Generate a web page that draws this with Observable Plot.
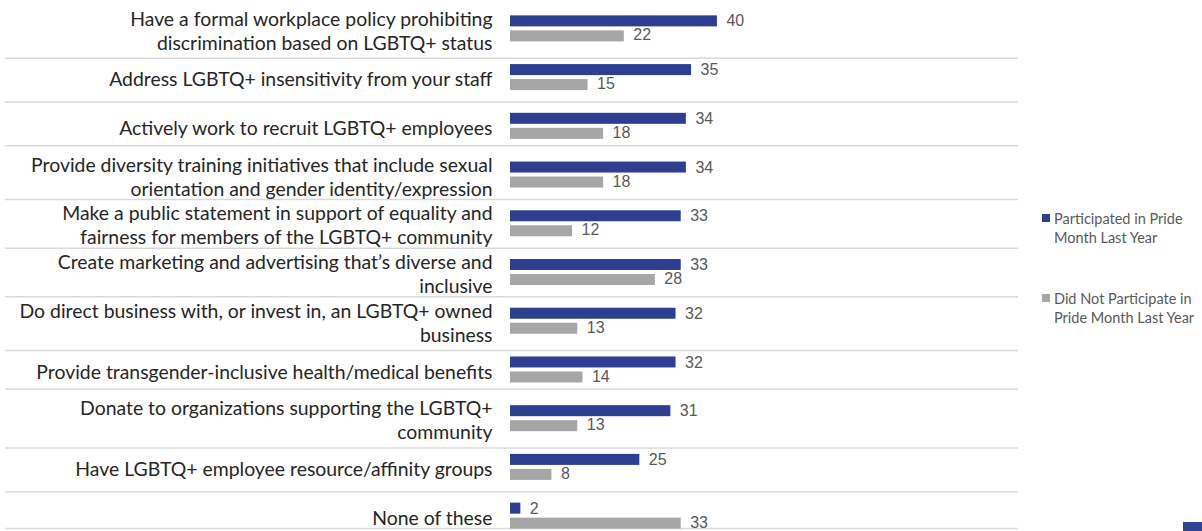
<!DOCTYPE html>
<html>
<head>
<meta charset="utf-8">
<script src="https://cdn.jsdelivr.net/npm/d3@7"></script>
<script src="https://cdn.jsdelivr.net/npm/@observablehq/plot@0.6"></script>
<style>
  html, body { margin: 0; padding: 0; background: #fff; overflow: hidden; }
  #wrap { position: relative; width: 1202px; height: 531px; overflow: hidden; }
  #chart { position: absolute; left: 0; top: 0; }
  .legend { position: absolute; left: 1042px; font-family: Lato, "Noto Sans", sans-serif; font-size: 14.5px; color: #595959; line-height: 19px; }
  .legend .item { position: relative; padding-left: 12px; }
  .legend .sw { position: absolute; left: 0; top: 5px; width: 8px; height: 8px; }
  #corner { position: absolute; left: 1183px; top: 522px; width: 19px; height: 9px; background: #2f4592; }
</style>
</head>
<body>
<div id="wrap">
  <div id="chart"></div>
  <div id="legend"></div>
  <div id="corner"></div>
</div>
<script>
// ---- data ----
const categories = [
  "Have a formal workplace policy prohibiting\ndiscrimination based on LGBTQ+ status",
  "Address LGBTQ+ insensitivity from your staff",
  "Actively work to recruit LGBTQ+ employees",
  "Provide diversity training initiatives that include sexual\norientation and gender identity/expression",
  "Make a public statement in support of equality and\nfairness for members of the LGBTQ+ community",
  "Create marketing and advertising that\u2019s diverse and\ninclusive",
  "Do direct business with, or invest in, an LGBTQ+ owned\nbusiness",
  "Provide transgender-inclusive health/medical benefits",
  "Donate to organizations supporting the LGBTQ+\ncommunity",
  "Have LGBTQ+ employee resource/affinity groups",
  "None of these"
];
const participated    = [40, 35, 34, 34, 33, 33, 32, 32, 31, 25, 2];
const notParticipated = [22, 15, 18, 18, 12, 28, 13, 14, 13, 8, 33];
const seriesNames = ["Participated in Pride\nMonth Last Year", "Did Not Participate in\nPride Month Last Year"];
const seriesColors = ["#2e3f92", "#a6a6a6"];

// ---- layout ----
const W = 1202, H = 540, mTop = 4, mBottom = 0, mLeft = 510, mRight = 184;
const step = (H - mTop - mBottom) / categories.length;
const barH = 11, pairOffset = 7.5;
const inset = (step - barH) / 2;

const rowsP = categories.map((c, i) => ({category: c, value: participated[i]}));
const rowsN = categories.map((c, i) => ({category: c, value: notParticipated[i]}));

// separators: shifted by difference in label line counts
const lines = categories.map(c => c.split("\n").length);
const sepAdj = categories.map((c, i) => i < categories.length - 1 ? 5 * (lines[i] - lines[i + 1]) : -12);
const adjGroups = d3.groups(categories.map((c, i) => ({c, adj: sepAdj[i]})), d => d.adj);

const sepMarks = adjGroups.map(([adj, items]) =>
  Plot.ruleY(items, {y: "c", dy: step / 2 + adj, insetLeft: -505, stroke: "#d9d9d9", strokeWidth: 1.5})
);

const valueFont = "'Liberation Sans', Arial, sans-serif";

const chart = Plot.plot({
  width: W,
  height: H,
  marginTop: mTop,
  marginBottom: mBottom,
  marginLeft: mLeft,
  marginRight: mRight,
  x: {domain: [0, 98.2], axis: null},
  y: {domain: categories, padding: 0, round: false, axis: null},
  style: {background: "transparent"},
  marks: [
    ...sepMarks,
    Plot.barX(rowsP, {x: "value", y: "category", fill: seriesColors[0], dy: -pairOffset, insetTop: inset, insetBottom: inset}),
    Plot.barX(rowsN, {x: "value", y: "category", fill: seriesColors[1], dy: pairOffset, insetTop: inset, insetBottom: inset}),
    Plot.text(rowsP, {x: "value", y: "category", text: d => String(d.value), dx: 9, dy: -pairOffset, textAnchor: "start", fill: "#595959", fontSize: 16, fontFamily: valueFont}),
    Plot.text(rowsN, {x: "value", y: "category", text: d => String(d.value), dx: 9, dy: pairOffset - 1, textAnchor: "start", fill: "#595959", fontSize: 16, fontFamily: valueFont}),
    Plot.text(categories, {y: d => d, text: d => d, frameAnchor: "left", dx: -18, dy: 1, textAnchor: "end", lineHeight: 1.24, fill: "#262626", fontSize: 19.4, fontFamily: "Lato, 'Noto Sans', sans-serif"})
  ]
});
document.getElementById("chart").appendChild(chart);

// legend
const legend = document.getElementById("legend");
const legendTops = [209, 289];
seriesNames.forEach((name, i) => {
  const div = document.createElement("div");
  div.className = "legend";
  div.style.top = legendTops[i] + "px";
  const item = document.createElement("div");
  item.className = "item";
  const sw = document.createElement("span");
  sw.className = "sw";
  sw.style.background = seriesColors[i];
  item.appendChild(sw);
  name.split("\n").forEach(line => {
    const l = document.createElement("div");
    l.textContent = line;
    item.appendChild(l);
  });
  div.appendChild(item);
  legend.appendChild(div);
});
</script>
</body>
</html>
